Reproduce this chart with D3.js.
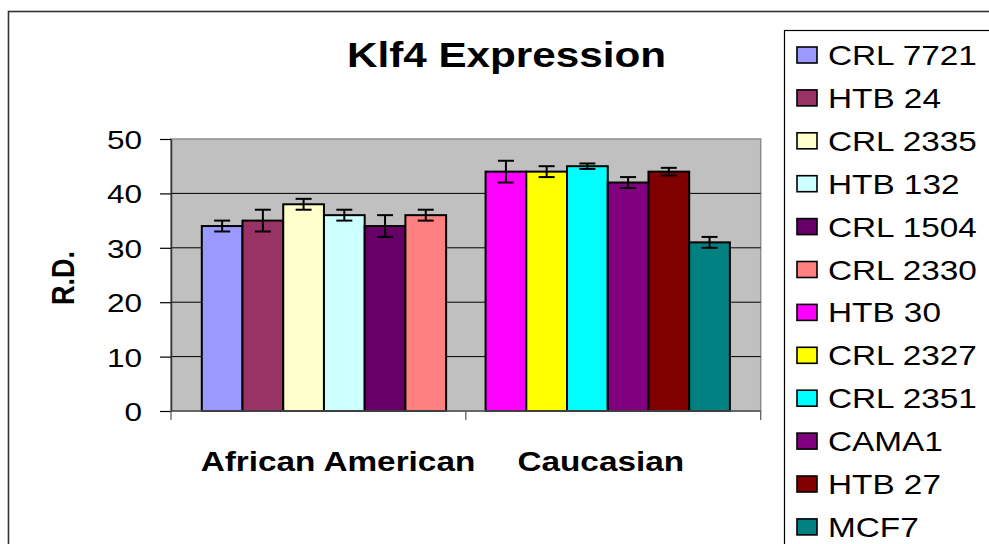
<!DOCTYPE html>
<html><head><meta charset="utf-8">
<script src="https://cdn.jsdelivr.net/npm/d3@7"></script>
<style>html,body{margin:0;padding:0;background:#fff;overflow:hidden;} svg{display:block;}</style>
</head><body>
<svg id="chart" width="989" height="544"></svg>
<script>
// ---------- data ----------
const categories = ["African American", "Caucasian"];
const cellLines = ["CRL 7721", "HTB 24", "CRL 2335", "HTB 132", "CRL 1504", "CRL 2330",
                   "HTB 30", "CRL 2327", "CRL 2351", "CAMA1", "HTB 27", "MCF7"];
const lineCategory = ["African American", "African American", "African American",
                      "African American", "African American", "African American",
                      "Caucasian", "Caucasian", "Caucasian", "Caucasian", "Caucasian", "Caucasian"];
const values = [34, 35, 38, 36, 34, 36, 44, 44, 45, 42, 44, 31];
const errors = [1, 2, 1, 1, 2, 1, 2, 1, 0.5, 1, 0.7, 1];
const colors = ["#9999FF", "#993366", "#FFFFCC", "#CCFFFF", "#660066", "#FF8080",
                "#FF00FF", "#FFFF00", "#00FFFF", "#800080", "#800000", "#008080"];
const yTicks = [0, 10, 20, 30, 40, 50];
const titleText = "Klf4 Expression";
const yLabel = "R.D.";

// ---------- layout ----------
const W = 989, H = 544;
const plot = {left: 171, right: 760.7, top: 139, bottom: 411};
const SX = 1.19;                 // horizontal glyph stretch seen in the reference
const FONT = "'Liberation Sans', Arial, Helvetica, sans-serif";
const labelNudge = [14, -7];

const svg = d3.select("#chart");

// outer chart frame
svg.append("rect").attr("x", 8.5).attr("y", 11.5).attr("width", W).attr("height", H)
  .attr("fill", "#fff").attr("stroke", "#333").attr("stroke-width", 1.6);

// scales
const x0 = d3.scaleBand().domain(categories).range([plot.left, plot.right])
  .paddingInner(0.139).paddingOuter(0.1085);
const y = d3.scaleLinear().domain([0, 50]).range([plot.bottom, plot.top]);

const data = cellLines.map((name, i) => ({name, cat: lineCategory[i], value: values[i], err: errors[i], color: colors[i]}));
const x1 = {};
categories.forEach(c => {
  x1[c] = d3.scaleBand().domain(data.filter(d => d.cat === c).map(d => d.name)).range([0, x0.bandwidth()]);
});

// plot background
svg.append("rect").attr("x", plot.left).attr("y", plot.top)
  .attr("width", plot.right - plot.left).attr("height", plot.bottom - plot.top)
  .attr("fill", "#C0C0C0").attr("stroke", "#8c8c8c").attr("stroke-width", 1.5);

// gridlines
svg.append("g").selectAll("line").data(yTicks.filter(t => t > 0 && t < 50)).join("line")
  .attr("x1", plot.left).attr("x2", plot.right)
  .attr("y1", d => y(d)).attr("y2", d => y(d))
  .attr("stroke", "#000").attr("stroke-width", 1);

// bars
svg.append("g").selectAll("rect").data(data).join("rect")
  .attr("x", d => x0(d.cat) + x1[d.cat](d.name))
  .attr("y", d => y(d.value))
  .attr("width", d => x1[d.cat].bandwidth())
  .attr("height", d => y(0) - y(d.value))
  .attr("fill", d => d.color).attr("stroke", "#000").attr("stroke-width", 2);

// error bars
const eb = svg.append("g").attr("stroke", "#000").attr("stroke-width", 2);
data.forEach(d => {
  const cx = x0(d.cat) + x1[d.cat](d.name) + x1[d.cat].bandwidth() / 2;
  const yt = y(d.value + d.err), yb = y(d.value - d.err);
  eb.append("line").attr("x1", cx).attr("x2", cx).attr("y1", yt).attr("y2", yb);
  eb.append("line").attr("x1", cx - 8).attr("x2", cx + 8).attr("y1", yt).attr("y2", yt);
  eb.append("line").attr("x1", cx - 8).attr("x2", cx + 8).attr("y1", yb).attr("y2", yb);
});

// y axis
const yAxis = svg.append("g").attr("transform", `translate(${plot.left},0)`)
  .call(d3.axisLeft(y).tickValues(yTicks).tickSize(11).tickSizeOuter(0).tickPadding(0));
yAxis.select(".domain").attr("stroke", "#333").attr("stroke-width", 1.5);
yAxis.selectAll(".tick line").attr("stroke", "#000").attr("stroke-width", 1.2);
yAxis.selectAll(".tick text")
  .attr("x", null).attr("dy", null)
  .attr("transform", `translate(-29,9.5) scale(${SX},1)`)
  .attr("font-family", FONT).attr("font-size", 26.5).attr("fill", "#000")
  .attr("text-anchor", "end");

// x axis line and boundary ticks
svg.append("line").attr("x1", plot.left).attr("x2", plot.right)
  .attr("y1", plot.bottom).attr("y2", plot.bottom)
  .attr("stroke", "#555").attr("stroke-width", 1.5);
const bounds = [plot.left, ...categories.slice(1).map(c => x0(c) - x0.step() * x0.paddingInner() / 2), plot.right];
svg.append("g").selectAll("line").data(bounds).join("line")
  .attr("x1", d => d).attr("x2", d => d).attr("y1", plot.bottom).attr("y2", plot.bottom + 9)
  .attr("stroke", "#555").attr("stroke-width", 1.2);

// category labels
svg.append("g").selectAll("text").data(categories).join("text")
  .attr("transform", (c, i) => `translate(${x0(c) + x0.bandwidth() / 2 + labelNudge[i]},471) scale(${SX},1)`)
  .attr("text-anchor", "middle").attr("font-family", FONT).attr("font-weight", "bold")
  .attr("font-size", 28).attr("fill", "#000").text(c => c);

// title
svg.append("text").attr("transform", `translate(506.5,67) scale(${SX},1)`)
  .attr("text-anchor", "middle").attr("font-family", FONT).attr("font-weight", "bold")
  .attr("font-size", 35.5).attr("fill", "#000").text(titleText);

// y label
svg.append("text").attr("transform", `translate(74,278) rotate(-90) scale(1,${SX})`)
  .attr("text-anchor", "middle").attr("font-family", FONT).attr("font-weight", "bold")
  .attr("font-size", 27).attr("fill", "#000").text(yLabel);

// legend
svg.append("rect").attr("x", 784.5).attr("y", 30.5).attr("width", 300).attr("height", 600)
  .attr("fill", "#fff").attr("stroke", "#000").attr("stroke-width", 1.2);
const leg = svg.append("g").selectAll("g").data(data).join("g")
  .attr("transform", (d, i) => `translate(0,${55 + i * 42.9})`);
leg.append("rect").attr("x", 797).attr("y", -8).attr("width", 20).attr("height", 16)
  .attr("fill", d => d.color).attr("stroke", "#000").attr("stroke-width", 1.6);
leg.append("text").attr("transform", `translate(828,10) scale(${SX},1)`)
  .attr("font-family", FONT).attr("font-size", 28).attr("fill", "#000").text(d => d.name);
</script>
</body></html>
